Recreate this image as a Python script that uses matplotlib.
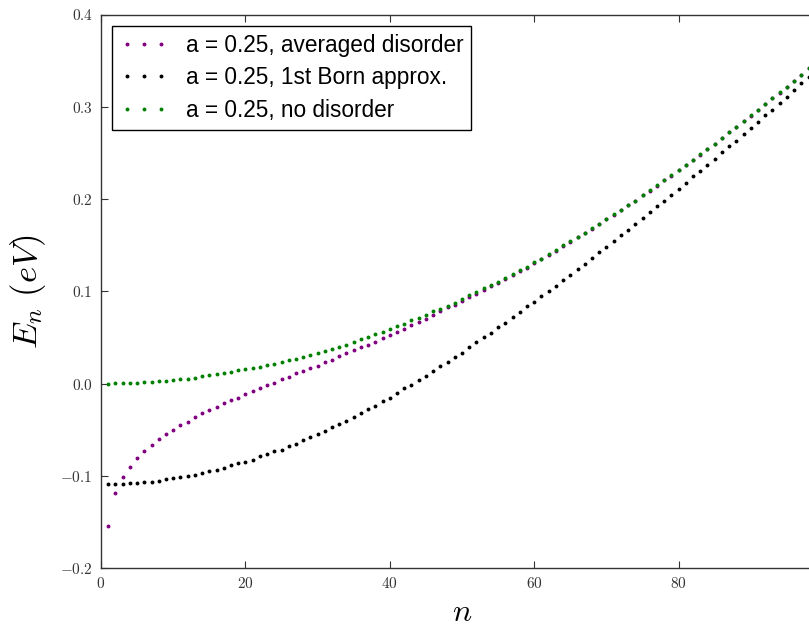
import numpy as np
import matplotlib.pyplot as plt
from matplotlib.ticker import FuncFormatter

plt.rcParams['mathtext.fontset'] = 'cm'

# ----------------- datos ----------------- #
n = np.arange(1, 99)

E_prom = [
    -0.1542, -0.1191, -0.1014, -0.0902, -0.0805, -0.0729, -0.0668, -0.0602, -0.0552, -0.0502,
    -0.0451, -0.0415, -0.0364, -0.0325, -0.0292, -0.0256, -0.0213, -0.0177, -0.0155, -0.0115,
    -0.0079, -0.0050, -0.0021, 0.0007, 0.0047, 0.0069, 0.0109, 0.0134, 0.0170, 0.0192,
    0.0228, 0.0257, 0.0293, 0.0333, 0.0358, 0.0394, 0.0419, 0.0455, 0.0492, 0.0531,
    0.0557, 0.0593, 0.0632, 0.0668, 0.0694, 0.0744, 0.0784, 0.0824, 0.0856, 0.0899,
    0.0939, 0.0975, 0.1012, 0.1055, 0.1091, 0.1132, 0.1178, 0.1221, 0.1257, 0.1307,
    0.1345, 0.1396, 0.1440, 0.1491, 0.1535, 0.1586, 0.1627, 0.1677, 0.1728, 0.1779,
    0.1830, 0.1877, 0.1931, 0.1978, 0.2040, 0.2091, 0.2145, 0.2203, 0.2254, 0.2311,
    0.2365, 0.2423, 0.2481, 0.2542, 0.2597, 0.2658, 0.2723, 0.2777, 0.2842, 0.2904,
    0.2965, 0.3026, 0.3091, 0.3153, 0.3214, 0.3279, 0.3341, 0.3416]

E_born = [
    -0.1094, -0.1094, -0.1094, -0.1079, -0.1079, -0.1065, -0.1065, -0.1054, -0.1040, -0.1025,
    -0.1014, -0.1000, -0.0989, -0.0975, -0.0949, -0.0938, -0.0913, -0.0888, -0.0862, -0.0852,
    -0.0827, -0.0787, -0.0762, -0.0737, -0.0718, -0.0679, -0.0653, -0.0614, -0.0577, -0.0552,
    -0.0516, -0.0476, -0.0440, -0.0404, -0.0364, -0.0317, -0.0278, -0.0242, -0.0191, -0.0155,
    -0.0104, -0.0054, -0.0018, 0.0033, 0.0083, 0.0134, 0.0185, 0.0235, 0.0286, 0.0336,
    0.0398, 0.0445, 0.0499, 0.0549, 0.0611, 0.0658, 0.0723, 0.0773, 0.0835, 0.0885,
    0.0947, 0.1008, 0.1058, 0.1120, 0.1181, 0.1246, 0.1297, 0.1358, 0.1423, 0.1485,
    0.1546, 0.1607, 0.1669, 0.1734, 0.1795, 0.1860, 0.1922, 0.1983, 0.2044, 0.2113,
    0.2171, 0.2247, 0.2308, 0.2369, 0.2431, 0.2507, 0.2572, 0.2633, 0.2709, 0.2770,
    0.2832, 0.2908, 0.2969, 0.3045, 0.3110, 0.3182, 0.3258, 0.3323]

E_limpio = [
    0.0000, 0.0001, 0.0003, 0.0005, 0.0010, 0.0012, 0.0015, 0.0022, 0.0027, 0.0038,
    0.0046, 0.0052, 0.0064, 0.0076, 0.0089, 0.0104, 0.0116, 0.0130, 0.0141, 0.0153,
    0.0165, 0.0181, 0.0198, 0.0212, 0.0235, 0.0253, 0.0271, 0.0282, 0.0307, 0.0333,
    0.0354, 0.0369, 0.0394, 0.0419, 0.0448, 0.0484, 0.0506, 0.0535, 0.0560, 0.0596,
    0.0622, 0.0647, 0.0683, 0.0708, 0.0744, 0.0784, 0.0806, 0.0845, 0.0878, 0.0921,
    0.0957, 0.0993, 0.1030, 0.1069, 0.1105, 0.1145, 0.1192, 0.1232, 0.1268, 0.1318,
    0.1355, 0.1405, 0.1449, 0.1499, 0.1542, 0.1593, 0.1633, 0.1683, 0.1734, 0.1784,
    0.1835, 0.1882, 0.1936, 0.1983, 0.2044, 0.2095, 0.2149, 0.2207, 0.2258, 0.2315,
    0.2369, 0.2427, 0.2485, 0.2546, 0.2601, 0.2662, 0.2727, 0.2781, 0.2846, 0.2908,
    0.2969, 0.3030, 0.3095, 0.3157, 0.3218, 0.3283, 0.3345, 0.3420]

etiquetas = ['a = 0.25, averaged disorder',
             'a = 0.25, 1st Born approx.',
             'a = 0.25, no disorder']
colores = ['purple', 'black', 'green']

# ----------------------------- grafico ----------------------------- #
fig = plt.figure(figsize=(8.09, 6.3), dpi=100)
# el eje se sale por la derecha (la imagen original esta recortada)
ax = fig.add_axes([101/809, 62/630, 722/809, 553.5/630])

for serie, lab, col in zip([E_prom, E_born, E_limpio], etiquetas, colores):
    ax.plot(n, serie, 'o', ms=2.8, mew=0, color=col, label=lab)

ax.set_xlim(0, 100)
ax.set_ylim(-0.2, 0.4)
ax.set_xticks([0, 20, 40, 60, 80])
ax.set_yticks(np.arange(-0.2, 0.41, 0.1))
ax.xaxis.set_major_formatter(FuncFormatter(lambda v, p: f'${v:.0f}$'))
ax.yaxis.set_major_formatter(FuncFormatter(lambda v, p: f'${v:.1f}$'))
ax.tick_params(direction='in', top=True, right=True, length=5, width=0.8,
               labelsize=11, colors='#333333', labelcolor='#333333')
ax.tick_params(axis='x', pad=6)
ax.tick_params(axis='y', pad=6)
for s in ax.spines.values():
    s.set_linewidth(1.0)
    s.set_color('#333333')

ax.set_xlabel('$n$', fontsize=23, labelpad=4)
ax.set_ylabel(r'$E_n\ (eV)$', fontsize=25, labelpad=9)

leg = ax.legend(loc='upper left', numpoints=3, markerscale=1.0, fancybox=False,
                prop={'family': 'Liberation Sans', 'size': 16.3},
                handlelength=2.1, handletextpad=0.8, borderaxespad=0.5,
                labelspacing=0.42, borderpad=0.35, framealpha=1)
leg.get_frame().set_edgecolor('black')
leg.get_frame().set_linewidth(1.0)

fig.savefig('out.png', dpi=100)
